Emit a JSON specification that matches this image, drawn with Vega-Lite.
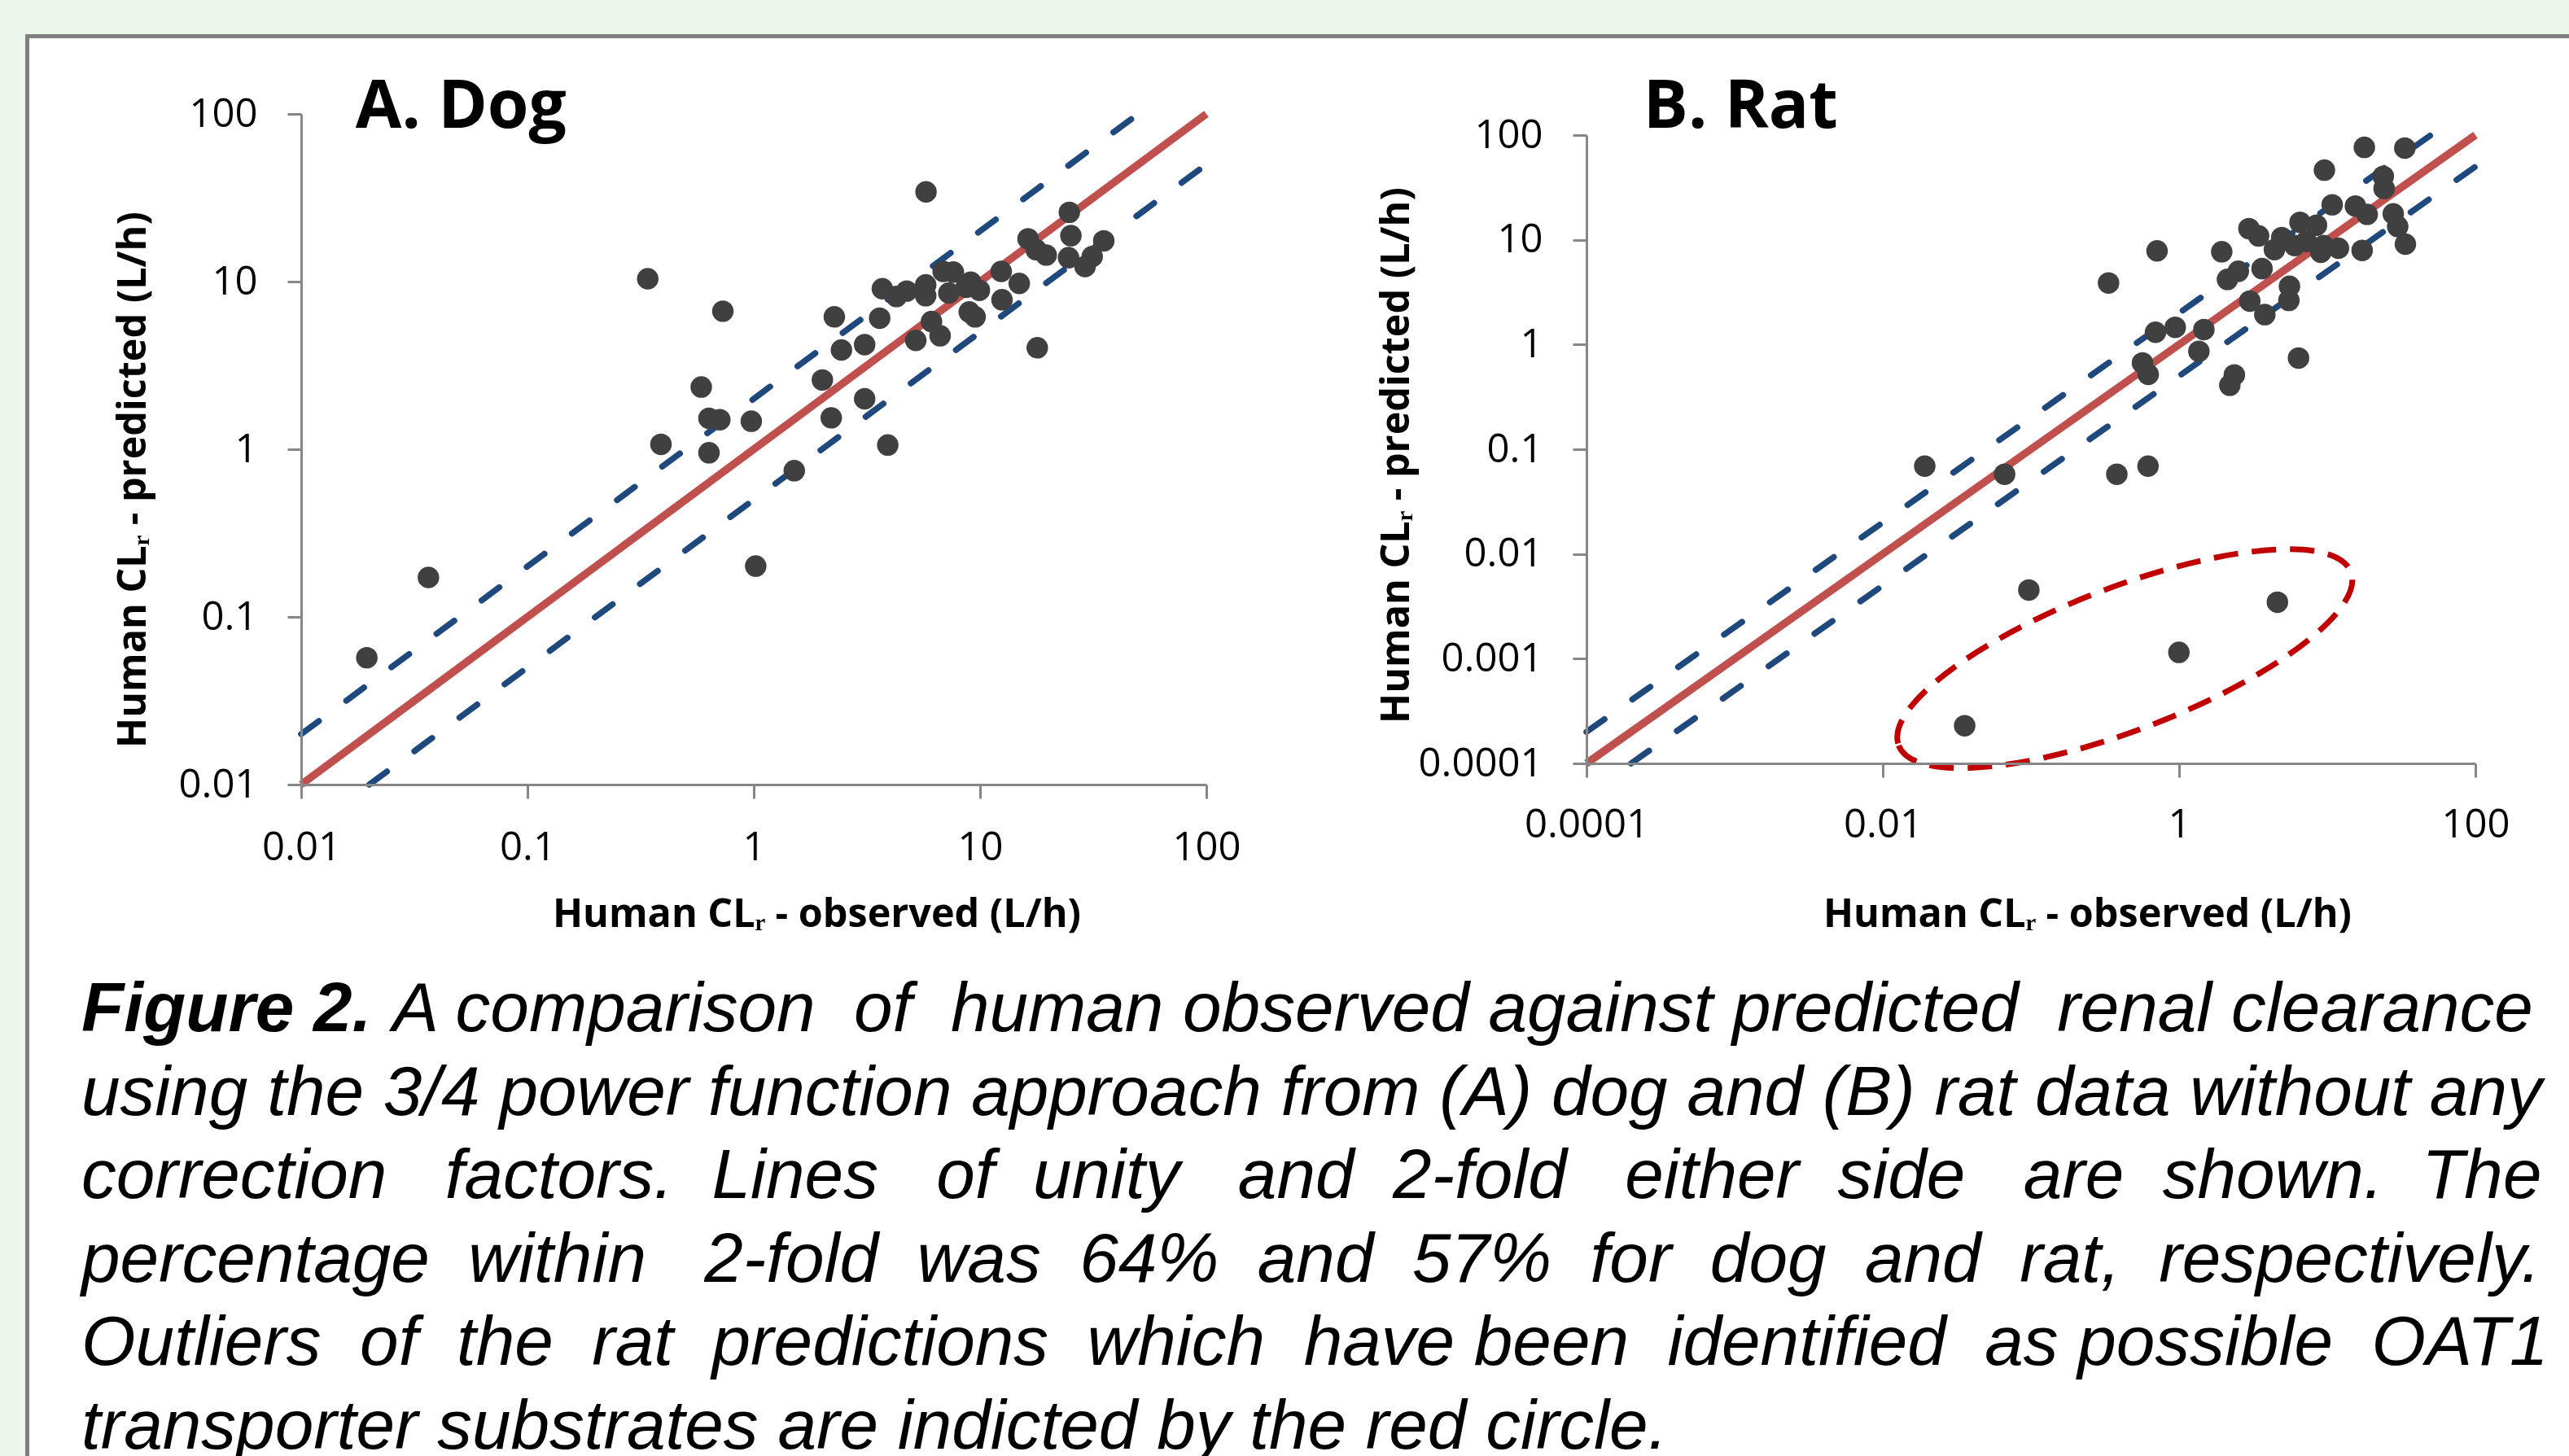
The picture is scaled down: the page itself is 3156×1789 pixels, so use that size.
{
  "$schema": "https://vega.github.io/schema/vega-lite/v6.json",
  "autosize": {"type": "none"},
  "padding": {"left": 370, "top": 140, "right": 2786, "bottom": 1649},
  "background": "#FFFFFF",
  "columns": 2,
  "spacing": {"row": 303, "column": 467},
  "bounds": "flush",
  "align": "each",
  "center": {"row": true, "column": false},
  "datasets": {
    "dog": [
      {"observed": 0.340, "predicted": 10.4},
      {"observed": 5.77, "predicted": 34.3},
      {"observed": 0.730, "predicted": 6.66},
      {"observed": 24.8, "predicted": 25.9},
      {"observed": 16.3, "predicted": 18.0},
      {"observed": 25.2, "predicted": 18.8},
      {"observed": 35.2, "predicted": 17.5},
      {"observed": 17.7, "predicted": 15.5},
      {"observed": 19.6, "predicted": 14.4},
      {"observed": 24.6, "predicted": 13.9},
      {"observed": 31.3, "predicted": 14.1},
      {"observed": 29.1, "predicted": 12.3},
      {"observed": 12.4, "predicted": 11.5},
      {"observed": 14.9, "predicted": 9.75},
      {"observed": 12.5, "predicted": 7.79},
      {"observed": 17.9, "predicted": 4.03},
      {"observed": 3.70, "predicted": 9.07},
      {"observed": 4.27, "predicted": 8.15},
      {"observed": 4.74, "predicted": 8.78},
      {"observed": 5.75, "predicted": 9.56},
      {"observed": 5.75, "predicted": 8.24},
      {"observed": 6.87, "predicted": 11.5},
      {"observed": 7.62, "predicted": 11.4},
      {"observed": 7.28, "predicted": 8.55},
      {"observed": 9.09, "predicted": 9.93},
      {"observed": 9.93, "predicted": 8.87},
      {"observed": 8.69, "predicted": 9.25},
      {"observed": 8.96, "predicted": 6.59},
      {"observed": 9.51, "predicted": 6.16},
      {"observed": 6.10, "predicted": 5.78},
      {"observed": 6.66, "predicted": 4.75},
      {"observed": 5.20, "predicted": 4.46},
      {"observed": 3.60, "predicted": 6.05},
      {"observed": 2.27, "predicted": 6.16},
      {"observed": 2.44, "predicted": 3.91},
      {"observed": 3.09, "predicted": 4.21},
      {"observed": 2.01, "predicted": 2.59},
      {"observed": 3.09, "predicted": 2.00},
      {"observed": 2.20, "predicted": 1.54},
      {"observed": 3.91, "predicted": 1.06},
      {"observed": 1.51, "predicted": 0.745},
      {"observed": 0.975, "predicted": 1.47},
      {"observed": 0.708, "predicted": 1.50},
      {"observed": 0.634, "predicted": 1.53},
      {"observed": 0.586, "predicted": 2.35},
      {"observed": 0.634, "predicted": 0.953},
      {"observed": 0.389, "predicted": 1.07},
      {"observed": 1.02, "predicted": 0.201},
      {"observed": 0.0365, "predicted": 0.172},
      {"observed": 0.0195, "predicted": 0.0571}
    ],
    "rat": [
      {"observed": 17.8, "predicted": 76.4},
      {"observed": 33.4, "predicted": 75.2},
      {"observed": 9.57, "predicted": 46.3},
      {"observed": 23.9, "predicted": 40.4},
      {"observed": 24.2, "predicted": 30.9},
      {"observed": 10.8, "predicted": 21.6},
      {"observed": 15.5, "predicted": 21.0},
      {"observed": 18.6, "predicted": 17.5},
      {"observed": 27.9, "predicted": 17.7},
      {"observed": 29.9, "predicted": 13.4},
      {"observed": 33.7, "predicted": 9.09},
      {"observed": 6.55, "predicted": 14.7},
      {"observed": 8.46, "predicted": 13.8},
      {"observed": 2.96, "predicted": 12.8},
      {"observed": 3.44, "predicted": 10.9},
      {"observed": 4.93, "predicted": 10.5},
      {"observed": 4.40, "predicted": 8.06},
      {"observed": 6.03, "predicted": 8.81},
      {"observed": 7.22, "predicted": 9.65},
      {"observed": 9.45, "predicted": 8.81},
      {"observed": 9.05, "predicted": 7.60},
      {"observed": 11.9, "predicted": 8.31},
      {"observed": 17.2, "predicted": 7.92},
      {"observed": 0.710, "predicted": 7.84},
      {"observed": 0.334, "predicted": 3.87},
      {"observed": 1.94, "predicted": 7.70},
      {"observed": 2.51, "predicted": 5.01},
      {"observed": 2.12, "predicted": 4.19},
      {"observed": 3.63, "predicted": 5.31},
      {"observed": 5.56, "predicted": 3.60},
      {"observed": 5.51, "predicted": 2.64},
      {"observed": 3.00, "predicted": 2.60},
      {"observed": 3.79, "predicted": 1.93},
      {"observed": 0.693, "predicted": 1.31},
      {"observed": 0.942, "predicted": 1.46},
      {"observed": 1.47, "predicted": 1.39},
      {"observed": 1.36, "predicted": 0.861},
      {"observed": 0.566, "predicted": 0.667},
      {"observed": 0.619, "predicted": 0.519},
      {"observed": 2.36, "predicted": 0.513},
      {"observed": 2.20, "predicted": 0.409},
      {"observed": 6.40, "predicted": 0.743},
      {"observed": 0.0192, "predicted": 0.0690},
      {"observed": 0.0664, "predicted": 0.0577},
      {"observed": 0.380, "predicted": 0.0577},
      {"observed": 0.617, "predicted": 0.0690},
      {"observed": 0.0968, "predicted": 0.00453},
      {"observed": 4.61, "predicted": 0.00346},
      {"observed": 0.997, "predicted": 0.00115},
      {"observed": 0.0357, "predicted": 0.000229}
    ],
    "dogLines": [
      {"kind": "unity", "observed": 0.01, "predicted": 0.01},
      {"kind": "unity", "observed": 100, "predicted": 100},
      {"kind": "upper", "observed": 0.01, "predicted": 0.02},
      {"kind": "upper", "observed": 50, "predicted": 100},
      {"kind": "lower", "observed": 0.02, "predicted": 0.01},
      {"kind": "lower", "observed": 100, "predicted": 50}
    ],
    "ratLines": [
      {"kind": "unity", "observed": 0.0001, "predicted": 0.0001},
      {"kind": "unity", "observed": 100, "predicted": 100},
      {"kind": "upper", "observed": 0.0001, "predicted": 0.0002},
      {"kind": "upper", "observed": 50, "predicted": 100},
      {"kind": "lower", "observed": 0.0002, "predicted": 0.0001},
      {"kind": "lower", "observed": 100, "predicted": 50}
    ],
    "caption": [
      {"line": 1, "part": "label", "text": "Figure 2."},
      {"line": 1, "part": "lead", "text": "A comparison\u00a0 of\u00a0 human observed against predicted\u00a0 renal clearance"},
      {"line": 2, "part": "body", "text": "using the 3/4 power function approach from (A) dog and (B) rat data without any"},
      {"line": 3, "part": "body", "text": "correction\u00a0\u00a0 factors.\u00a0 Lines\u00a0\u00a0 of\u00a0 unity\u00a0\u00a0 and\u00a0 2-fold\u00a0\u00a0 either\u00a0 side\u00a0\u00a0 are\u00a0 shown.\u00a0 The"},
      {"line": 4, "part": "body", "text": "percentage\u00a0 within\u00a0\u00a0 2-fold\u00a0 was\u00a0 64%\u00a0 and\u00a0 57%\u00a0 for\u00a0 dog\u00a0 and\u00a0 rat,\u00a0 respectively."},
      {"line": 5, "part": "body", "text": "Outliers\u00a0 of\u00a0 the\u00a0 rat\u00a0 predictions\u00a0 which\u00a0 have been\u00a0 identified\u00a0 as possible\u00a0 OAT1"},
      {"line": 6, "part": "body", "text": "transporter substrates are indicted by the red circle."}
    ]
  },
  "concat": [
    {
      "width": 1112,
      "height": 824,
      "layer": [
        {
          "data": {"values": [{}]},
          "mark": {"type": "rect", "color": "#EBF6EC"},
          "encoding": {
            "x": {"datum": 0.0001, "type": "quantitative", "scale": {"type": "log", "domain": [0.01, 100], "nice": false}},
            "x2": {"datum": 1000000000},
            "y": {"datum": 1000, "type": "quantitative", "scale": {"type": "log", "domain": [0.01, 100], "nice": false}},
            "y2": {"datum": 0.00000001}
          }
        },
        {
          "data": {"values": [{}]},
          "mark": {"type": "rect", "color": "#808080"},
          "encoding": {
            "x": {"datum": 0.0006033, "type": "quantitative"},
            "x2": {"datum": 1000000000},
            "y": {"datum": 299.1, "type": "quantitative"},
            "y2": {"datum": 0.00000001}
          }
        },
        {
          "data": {"values": [{}]},
          "mark": {"type": "rect", "color": "#FFFFFF"},
          "encoding": {
            "x": {"datum": 0.0006288, "type": "quantitative"},
            "x2": {"datum": 1000000000},
            "y": {"datum": 282.8, "type": "quantitative"},
            "y2": {"datum": 0.00000001}
          }
        },
        {
          "data": {"name": "dogLines"},
          "transform": [{"filter": "datum.kind !== 'unity'"}],
          "mark": {"type": "line", "color": "#1F497D", "strokeWidth": 7.5, "strokeDash": [27, 42], "strokeCap": "round"},
          "encoding": {
            "x": {"field": "observed", "type": "quantitative"},
            "y": {"field": "predicted", "type": "quantitative"},
            "detail": {"field": "kind"}
          }
        },
        {
          "data": {"name": "dogLines"},
          "transform": [{"filter": "datum.kind === 'unity'"}],
          "mark": {"type": "line", "color": "#C0504D", "strokeWidth": 9.5},
          "encoding": {
            "x": {"field": "observed", "type": "quantitative"},
            "y": {"field": "predicted", "type": "quantitative"}
          }
        },
        {
          "data": {"name": "dog"},
          "mark": {"type": "circle", "size": 700, "color": "#404040", "opacity": 1},
          "encoding": {
            "x": {"field": "observed", "type": "quantitative", "scale": {"type": "log", "domain": [0.01, 100], "nice": false},
              "axis": {"values": [0.01, 0.1, 1, 10, 100], "format": "~g", "title": "Human CLᵣ - observed (L/h)", "titleX": 633, "titleY": 174, "titleAlign": "center", "titleBaseline": "alphabetic", "labelPadding": 36, "zindex": 1}},
            "y": {"field": "predicted", "type": "quantitative", "scale": {"type": "log", "domain": [0.01, 100], "nice": false},
              "axis": {"values": [0.01, 0.1, 1, 10, 100], "format": "~g", "title": "Human CLᵣ - predicted (L/h)", "titleX": -192, "titleY": 449, "titleAngle": -90, "titleAlign": "center", "titleBaseline": "alphabetic", "labelPadding": 37, "zindex": 1}}
          }
        },
        {
          "data": {"values": [{"panel": "A. Dog"}]},
          "mark": {"type": "text", "align": "left", "baseline": "alphabetic", "font": "Open Sans", "fontSize": 82, "fontWeight": "bold", "color": "#000000"},
          "encoding": {
            "x": {"datum": 0.0174, "type": "quantitative"},
            "y": {"datum": 83.0, "type": "quantitative"},
            "text": {"field": "panel"}
          }
        }
      ]
    },
    {
      "width": 1092,
      "height": 772,
      "layer": [
        {
          "data": {"name": "ratLines"},
          "transform": [{"filter": "datum.kind !== 'unity'"}],
          "mark": {"type": "line", "color": "#1F497D", "strokeWidth": 7.5, "strokeDash": [27, 42], "strokeCap": "round"},
          "encoding": {
            "x": {"field": "observed", "type": "quantitative"},
            "y": {"field": "predicted", "type": "quantitative"},
            "detail": {"field": "kind"}
          }
        },
        {
          "data": {"name": "ratLines"},
          "transform": [{"filter": "datum.kind === 'unity'"}],
          "mark": {"type": "line", "color": "#C0504D", "strokeWidth": 9.5},
          "encoding": {
            "x": {"field": "observed", "type": "quantitative"},
            "y": {"field": "predicted", "type": "quantitative"}
          }
        },
        {
          "data": {"name": "rat"},
          "mark": {"type": "circle", "size": 700, "color": "#404040", "opacity": 1},
          "encoding": {
            "x": {"field": "observed", "type": "quantitative", "scale": {"type": "log", "domain": [0.0001, 100], "nice": false},
              "axis": {"values": [0.0001, 0.01, 1, 100], "format": "~g", "title": "Human CLᵣ - observed (L/h)", "titleX": 615, "titleY": 200, "titleAlign": "center", "titleBaseline": "alphabetic", "labelPadding": 34, "zindex": 1}},
            "y": {"field": "predicted", "type": "quantitative", "scale": {"type": "log", "domain": [0.0001, 100], "nice": false},
              "axis": {"values": [0.0001, 0.001, 0.01, 0.1, 1, 10, 100], "format": "~g", "title": "Human CLᵣ - predicted (L/h)", "titleX": -219, "titleY": 393, "titleAngle": -90, "titleAlign": "center", "titleBaseline": "alphabetic", "labelPadding": 37, "zindex": 1}}
          }
        },
        {
          "data": {"values": [{}]},
          "mark": {"type": "point", "shape": "M-1,0A1,0.295,0,1,0,1,0A1,0.295,0,1,0,-1,0Z", "size": 354025, "angle": -21, "filled": false, "stroke": "#C00000", "strokeWidth": 7, "strokeDash": [30, 17], "opacity": 1},
          "encoding": {
            "x": {"datum": 0.43, "type": "quantitative"},
            "y": {"datum": 0.001, "type": "quantitative"}
          }
        },
        {
          "data": {"values": [{"panel": "B. Rat"}]},
          "mark": {"type": "text", "align": "left", "baseline": "alphabetic", "font": "Open Sans", "fontSize": 82, "fontWeight": "bold", "color": "#000000"},
          "encoding": {
            "x": {"datum": 0.000242, "type": "quantitative"},
            "y": {"datum": 117.5, "type": "quantitative"},
            "text": {"field": "panel"}
          }
        }
      ]
    },
    {
      "width": 1112,
      "height": 513,
      "data": {"name": "caption"},
      "encoding": {
        "y": {"field": "line", "type": "ordinal", "scale": {"type": "point", "padding": 0, "domain": [1, 2, 3, 4, 5, 6]}, "axis": null},
        "text": {"field": "text", "type": "nominal"}
      },
      "layer": [
        {
          "transform": [{"filter": "datum.part === 'body'"}],
          "mark": {"type": "text", "align": "left", "baseline": "alphabetic", "font": "Liberation Sans", "fontSize": 85.5, "fontStyle": "italic", "color": "#000000", "dx": -826}
        },
        {
          "transform": [{"filter": "datum.part === 'label'"}],
          "mark": {"type": "text", "align": "left", "baseline": "alphabetic", "font": "Liberation Sans", "fontSize": 85.5, "fontStyle": "italic", "fontWeight": "bold", "color": "#000000", "dx": -826}
        },
        {
          "transform": [{"filter": "datum.part === 'lead'"}],
          "mark": {"type": "text", "align": "left", "baseline": "alphabetic", "font": "Liberation Sans", "fontSize": 85.5, "fontStyle": "italic", "color": "#000000", "dx": -444}
        }
      ]
    }
  ],
  "config": {
    "view": {"stroke": null},
    "axis": {
      "grid": false,
      "domainColor": "#868686",
      "domainWidth": 3,
      "tickColor": "#868686",
      "tickWidth": 3,
      "tickSize": 17,
      "labelFont": "Open Sans",
      "labelFontSize": 49,
      "labelColor": "#000000",
      "labelFlush": false,
      "labelOverlap": false,
      "labelBound": false,
      "titleFont": "Open Sans",
      "titleFontSize": 48.5,
      "titleFontWeight": "bold",
      "titleColor": "#000000"
    }
  }
}
